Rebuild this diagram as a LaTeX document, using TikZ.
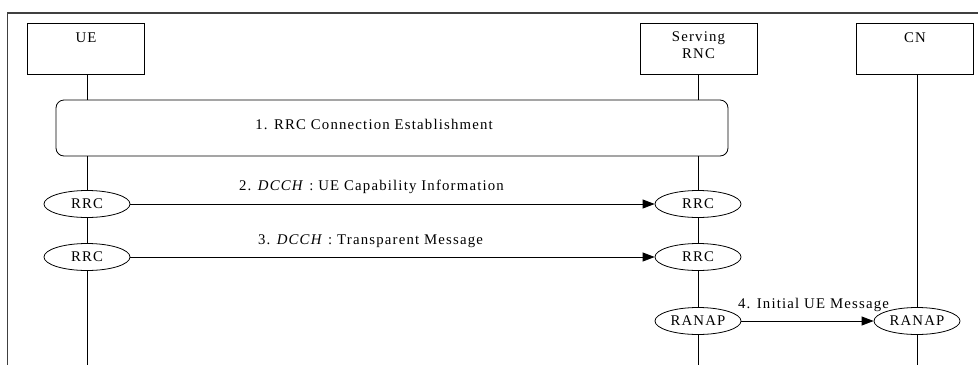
\documentclass[tikz,border=0pt]{standalone}
\usepackage{fontspec}
\setmainfont{Liberation Serif}[LetterSpace=8]
\usetikzlibrary{positioning,calc,arrows.meta,shapes.geometric}

\begin{document}
\begin{tikzpicture}[x=1pt,y=-1pt]
	\useasboundingbox (0,0) rectangle (978,365);
	\begin{scope}[line width=0.8pt]
		\tikzstyle{every node}=[align=center, inner sep=1pt, font=\fontsize{14.8}{17}\selectfont]
		\tikzstyle{entity}=[draw, minimum width=117pt, minimum height=51pt]
		\tikzstyle{proto}=[draw, ellipse, minimum width=86pt, minimum height=27pt, inner sep=0pt]
		\tikzstyle{msg}=[-{Triangle[length=12pt,width=9pt]}]

		% frame
		\draw [line width=1.4pt, black!75] (978, 13) -- (7.5, 13) -- (7.5, 365);
		\coordinate (bot) at (0, 365);

		\node [entity, label={[anchor=north, yshift=-9pt]north:UE}] (ue) at (86, 48.5) {};
		\node [entity, label={[anchor=north, yshift=-8pt]north:Serving\\RNC}] (srnc) at (698.5, 48.5) {};
		\node [entity, label={[anchor=north, yshift=-9pt]north:CN}] (cn) at (915, 48.5) {};

		\node [draw, rounded corners=8pt, minimum width=672pt, minimum height=56pt] (est) at (392, 128) {};
		\node (estl) at (374, 124) {1. RRC Connection Establishment};

		\node [proto] (rrcu1) at (87, 204) {RRC};
		\node [proto] (rrcu2) at (87, 257) {RRC};
		\node [proto] (rrcs1) at (698, 204) {RRC};
		\node [proto] (rrcs2) at (698, 257) {RRC};

		\node [proto] (ranaps) at (698, 321) {RANAP};
		\node [proto] (ranapc) at (917, 321) {RANAP};

		% lifelines
		\draw [] (ue.south -| rrcu1) to (rrcu1 |- est.north);
		\draw [] (rrcu1 |- est.south) to (rrcu1);
		\draw [] (rrcu1) to (rrcu2);
		\draw [] (rrcu2) to (rrcu2 |- bot);

		\draw [] (srnc.south -| rrcs1) to (rrcs1 |- est.north);
		\draw [] (rrcs1 |- est.south) to (rrcs1);
		\draw [] (rrcs1) to (rrcs2);
		\draw [] (rrcs2) to (ranaps);
		\draw [] (ranaps) to (ranaps |- bot);

		\draw [] (cn.south -| ranapc) to (ranapc);
		\draw [] (ranapc) to (ranapc |- bot);

		% messages
		\draw [msg] (rrcu1) -- node [above=9pt, xshift=-21pt] {2. \textit{DCCH} : UE Capability Information} (rrcs1);
		\draw [msg] (rrcu2) -- node [above=8pt, xshift=-22pt] {3. \textit{DCCH} : Transparent Message} (rrcs2);
		\draw [msg] (ranaps) -- node [above=8pt, xshift=6pt] {4. Initial UE Message} (ranapc);
	\end{scope}
\end{tikzpicture}
\end{document}
